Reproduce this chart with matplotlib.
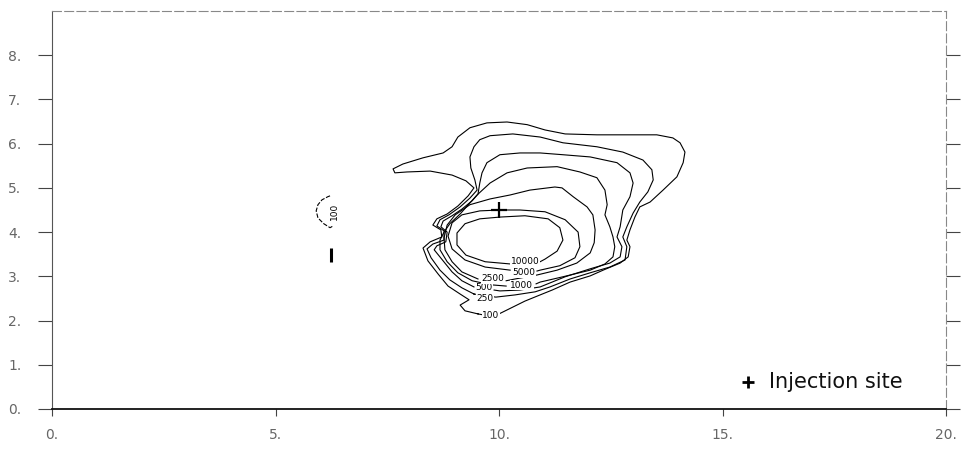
import matplotlib
matplotlib.use("Agg")
import matplotlib.pyplot as plt

# ---- data (data units) ----
levels = [100, 250, 500, 1000, 2500, 5000, 10000]

c100_x = [9.53, 9.24, 9.13, 9.33, 9.13, 8.86, 8.64, 8.41, 8.30, 8.46, 8.72, 8.70, 8.52, 8.61, 8.84, 9.08,
          9.31, 9.44, 9.26, 8.95, 8.46, 7.94, 7.67, 7.63, 7.85, 8.30, 8.75, 8.95, 9.08, 9.35, 9.73, 10.18,
          10.63, 11.03, 11.48, 12.19, 12.93, 13.53, 13.89, 14.05, 14.16, 14.12, 13.98, 13.67, 13.38, 13.15,
          13.04, 12.93, 12.86, 12.93, 12.89, 12.71, 12.33, 12.04, 11.59, 11.19, 10.92, 10.58, 10.18, 9.96,
          9.80, 9.53]
c100_y = [2.15, 2.22, 2.35, 2.47, 2.60, 2.78, 3.05, 3.35, 3.64, 3.78, 3.89, 4.05, 4.16, 4.30, 4.41, 4.59,
          4.82, 5.00, 5.16, 5.29, 5.38, 5.36, 5.34, 5.43, 5.54, 5.68, 5.79, 5.93, 6.15, 6.36, 6.47, 6.49,
          6.43, 6.31, 6.22, 6.20, 6.20, 6.20, 6.13, 6.02, 5.81, 5.57, 5.25, 4.95, 4.68, 4.57,
          4.34, 4.05, 3.82, 3.67, 3.44, 3.30, 3.14, 3.01, 2.87, 2.69, 2.58, 2.44, 2.24, 2.13,
          2.10, 2.15]

c250_x = [9.44, 9.17, 8.90, 8.68, 8.48, 8.39, 8.52, 8.77, 8.77, 8.61, 8.68, 8.88, 9.13, 9.35, 9.51, 9.46,
          9.37, 9.35, 9.44, 9.57, 9.80, 10.31, 10.92, 11.43, 12.19, 12.77, 13.22, 13.42, 13.45, 13.33,
          13.15, 13.00, 12.86, 12.77, 12.86, 12.82, 12.48, 12.04, 11.59, 11.14, 10.81, 10.36, 9.93, 9.44]
c250_y = [2.60, 2.74, 2.92, 3.14, 3.42, 3.62, 3.73, 3.82, 4.03, 4.14, 4.28, 4.39, 4.57, 4.77, 4.95, 5.18,
          5.45, 5.70, 5.93, 6.09, 6.18, 6.22, 6.15, 6.02, 5.93, 5.81, 5.63, 5.41, 5.18, 4.91,
          4.68, 4.43, 4.12, 3.89, 3.67, 3.37, 3.21, 3.08, 2.94, 2.76, 2.65, 2.58, 2.53, 2.60]

c500_x = [9.44, 9.17, 8.95, 8.75, 8.55, 8.61, 8.81, 8.84, 8.70, 8.75, 8.95, 9.17, 9.40, 9.53, 9.57, 9.62,
          9.73, 10.02, 10.47, 10.92, 11.43, 12.04, 12.64, 12.93, 13.00, 12.93, 12.77, 12.71, 12.64, 12.75,
          12.71, 12.48, 12.04, 11.48, 10.92, 10.47, 10.02, 9.89]
c500_y = [2.76, 2.90, 3.10, 3.35, 3.60, 3.69, 3.78, 4.00, 4.12, 4.25, 4.37, 4.52, 4.71, 4.86, 5.11, 5.34,
          5.57, 5.75, 5.79, 5.79, 5.75, 5.70, 5.57, 5.34, 5.11, 4.80, 4.50, 4.12, 3.89, 3.67,
          3.44, 3.30, 3.17, 2.99, 2.76, 2.69, 2.67, 2.69]

c1000_x = [10.16, 9.80, 9.40, 9.08, 8.84, 8.68, 8.68, 8.77, 8.90, 9.13, 9.35, 9.51, 9.80, 10.18, 10.63,
           11.30, 11.81, 12.19, 12.37, 12.42, 12.37, 12.48, 12.55, 12.59, 12.55, 12.37, 12.04, 11.43,
           10.92, 10.83]
c1000_y = [2.78, 2.81, 2.90, 3.08, 3.33, 3.60, 3.82, 4.00, 4.19, 4.41, 4.66, 4.84, 5.11, 5.34, 5.45,
           5.48, 5.36, 5.23, 4.95, 4.62, 4.39, 4.12, 3.89, 3.67, 3.44, 3.28, 3.14, 2.99,
           2.87, 2.83]

c2500_x = [9.53, 9.17, 8.95, 8.79, 8.77, 8.84, 9.02, 9.35, 9.80, 10.25, 10.69, 11.25, 11.41, 11.66,
           11.97, 12.10, 12.15, 12.13, 12.04, 11.74, 11.30, 10.85, 10.36, 10.16]
c2500_y = [2.94, 3.10, 3.33, 3.60, 3.87, 4.16, 4.39, 4.62, 4.75, 4.84, 4.95, 5.02, 5.00, 4.80,
           4.57, 4.39, 4.05, 3.76, 3.53, 3.30, 3.14, 3.03, 2.94, 2.90]

c5000_x = [10.25, 9.69, 9.24, 8.95, 8.86, 8.95, 9.17, 9.57, 10.02, 10.47, 11.03, 11.48, 11.77, 11.81,
           11.70, 11.36, 10.92, 10.85]
c5000_y = [3.14, 3.21, 3.37, 3.62, 3.91, 4.21, 4.39, 4.48, 4.50, 4.50, 4.46, 4.28, 4.00, 3.67,
           3.42, 3.24, 3.14, 3.12]

c10000_x = [10.25, 9.69, 9.26, 9.06, 9.06, 9.24, 9.57, 10.02, 10.58, 11.10, 11.36, 11.43, 11.30, 11.03, 10.92]
c10000_y = [3.28, 3.33, 3.48, 3.71, 3.98, 4.19, 4.30, 4.34, 4.37, 4.30, 4.10, 3.82, 3.57, 3.39, 3.33]

# small isolated 100 contour west of the plume
c100b_x = [6.22, 6.17, 6.04, 5.95, 5.91, 5.95, 6.08, 6.22, 6.29]
c100b_y = [4.82, 4.80, 4.73, 4.62, 4.48, 4.32, 4.19, 4.10, 4.14]
c_dash_x = [6.24, 6.24]
c_dash_y = [3.64, 3.33]

contour_xs = [c100_x, c250_x, c500_x, c1000_x, c2500_x, c5000_x, c10000_x]
contour_ys = [c100_y, c250_y, c500_y, c1000_y, c2500_y, c5000_y, c10000_y]

label_text = ["100", "250", "500", "1000", "2500", "5000", "10000"]
label_x = [9.82, 9.68, 9.66, 10.51, 9.86, 10.56, 10.58]
label_y = [2.12, 2.51, 2.75, 2.80, 2.94, 3.08, 3.33]

injection_x = [10.0]
injection_y = [4.5]

xticks = [0, 5, 10, 15, 20]
yticks = [0, 1, 2, 3, 4, 5, 6, 7, 8]
xticklabels = ["0.", "5.", "10.", "15.", "20."]
yticklabels = ["0.", "1.", "2.", "3.", "4.", "5.", "6.", "7.", "8."]

# ---- figure ----
fig = plt.figure(figsize=(9.65, 4.49), dpi=100)
ax = fig.add_axes([52 / 965, 1 - 409 / 449, (946 - 52) / 965, (409 - 11) / 449])
ax.set_xlim(0, 20)
ax.set_ylim(0, 9)

for xs, ys in zip(contour_xs, contour_ys):
    ax.plot(xs, ys, color="black", lw=0.8, solid_joinstyle="round")
ax.plot(c100b_x, c100b_y, color="black", lw=0.8, ls=(0, (4, 1.5)))
ax.plot(c_dash_x, c_dash_y, color="black", lw=2.2, solid_capstyle="butt")

for t, lx, ly in zip(label_text, label_x, label_y):
    ax.text(lx, ly, t, fontsize=6.5, ha="center", va="center",
            bbox=dict(facecolor="white", edgecolor="none", pad=0.2))
ax.text(6.33, 4.46, "100", fontsize=6.5, rotation=90, ha="center", va="center")

ax.plot(injection_x, injection_y, marker="+", color="black", ms=11, mew=1.6, ls="none")

# legend-like annotation
ax.plot([15.57], [0.61], marker="+", color="black", ms=9, mew=2.0, ls="none")
ax.text(16.05, 0.61, "Injection site", fontsize=15, ha="left", va="center", color="#111111")

ax.set_xticks(xticks)
ax.set_xticklabels(xticklabels)
ax.set_yticks(yticks)
ax.set_yticklabels(yticklabels)
ax.tick_params(axis="x", direction="out", length=5, width=0.8, color="#444444",
               labelsize=10, labelcolor="#666666", pad=9)
ax.tick_params(axis="y", direction="out", length=10, width=0.8, color="#444444",
               labelsize=10, labelcolor="#666666", pad=12, right=True)

ax.spines["left"].set_color("#555555")
ax.spines["left"].set_linewidth(0.8)
for side in ["top", "right"]:
    ax.spines[side].set_color("#888888")
    ax.spines[side].set_linewidth(0.8)
    ax.spines[side].set_linestyle((0, (8, 3)))
ax.spines["bottom"].set_color("#111111")
ax.spines["bottom"].set_linewidth(1.3)

fig.savefig("out.png", dpi=100)
